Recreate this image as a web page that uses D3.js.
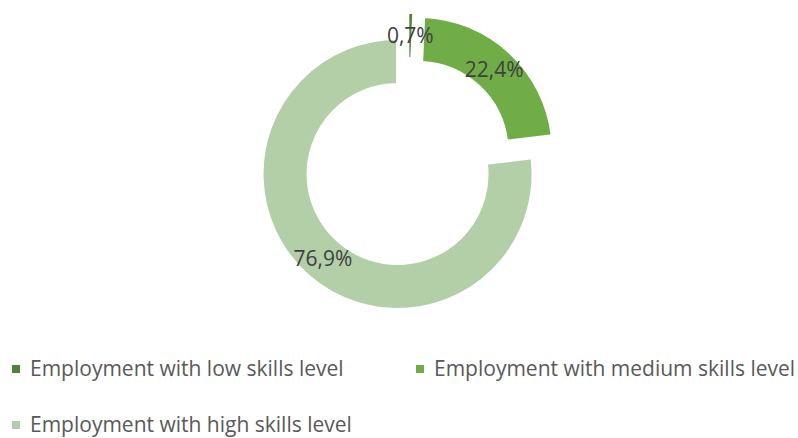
<!DOCTYPE html>
<html>
<head>
<meta charset="utf-8">
<script src="https://cdn.jsdelivr.net/npm/d3@7"></script>
<style>
  html, body { margin: 0; padding: 0; background: #ffffff; }
  svg { display: block; }
</style>
</head>
<body>
<svg id="chart" width="798" height="438"></svg>
<script>
// Employment by skills level (share, %)
const categories = [
  "Employment with low skills level",
  "Employment with medium skills level",
  "Employment with high skills level"
];
const shares = [0.7, 22.4, 76.9];
const valueLabels = ["0,7%", "22,4%", "76,9%"];
const colors = ["#548235", "#70ad47", "#b3cfa8"];

const svg = d3.select("#chart");

const cx = 407.5, cy = 162.8;
const outerR = 135.5, innerR = 89.5;
const explode = 15;

const pie = d3.pie().sort(null).value(d => d)(shares);
const arc = d3.arc().innerRadius(innerR).outerRadius(outerR);

const ring = svg.append("g").attr("transform", `translate(${cx},${cy})`);

// each slice pushed out along its mid angle
function offset(d) {
  const a = (d.startAngle + d.endAngle) / 2;
  return [explode * Math.sin(a), -explode * Math.cos(a)];
}
function placeAt(d, p) {
  const o = offset(d);
  return `translate(${o[0] + p[0]},${o[1] + p[1]})`;
}

ring.append("g").selectAll("path")
  .data(pie)
  .join("path")
  .attr("transform", d => placeAt(d, [0, 0]))
  .attr("d", arc)
  .attr("fill", (d, i) => colors[i])
  .attr("stroke", "#ffffff")
  .attr("stroke-width", 3)
  .attr("stroke-linejoin", "miter");

// value labels sit above every slice
ring.append("g").selectAll("text")
  .data(pie)
  .join("text")
  .attr("transform", d => placeAt(d, arc.centroid(d)))
  .attr("text-anchor", "middle")
  .attr("dy", "0.35em")
  .attr("font-family", "'Open Sans', 'Noto Sans', sans-serif")
  .attr("font-size", 21)
  .attr("fill", "#404040")
  .text((d, i) => valueLabels[i]);

// legend: two columns, wrapping to a second row
const legendPos = [[12, 376], [416, 376], [12, 432]];
const legend = svg.append("g").selectAll("g")
  .data(categories)
  .join("g")
  .attr("transform", (d, i) => `translate(${legendPos[i][0]},${legendPos[i][1]})`);

legend.append("rect")
  .attr("x", 0).attr("y", -11)
  .attr("width", 8).attr("height", 8)
  .attr("fill", (d, i) => colors[i]);

legend.append("text")
  .attr("x", 18)
  .attr("font-family", "'Open Sans', 'Noto Sans', sans-serif")
  .attr("font-size", 21)
  .attr("fill", "#595959")
  .text(d => d);
</script>
</body>
</html>
